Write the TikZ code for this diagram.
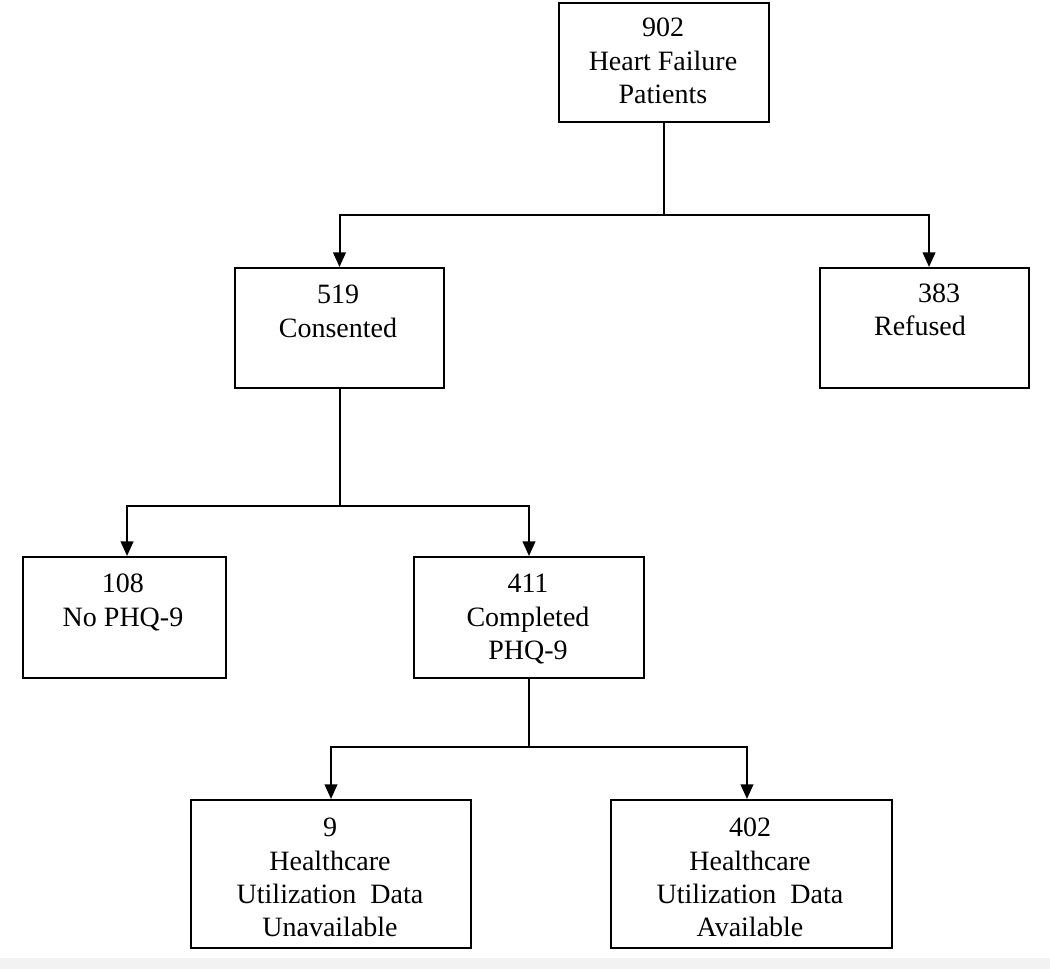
\documentclass[tikz,border=0pt]{standalone}
\usepackage{fontspec}
\setmainfont{Liberation Serif}
\usetikzlibrary{arrows.meta}
\begin{document}
\begin{tikzpicture}[x=0.75pt,y=-0.75pt,
  box/.style={draw=black, line width=1.5pt, rectangle, inner sep=0pt},
  txt/.style={align=center, anchor=north, inner sep=0pt, font=\fontsize{21pt}{25pt}\selectfont},
  txt1/.style={anchor=base, inner sep=0pt, font=\fontsize{21pt}{25pt}\selectfont},
  conn/.style={line width=1.5pt},
  arr/.style={conn, -{Triangle[width=9.5pt,length=11pt]}}]
\useasboundingbox (0,0) rectangle (1050,969);
\fill[gray!10] (0,958) rectangle (1050,969);
% boxes
\node[box, anchor=north west, minimum width=210*0.75pt, minimum height=119*0.75pt] (n902) at (558,2) {};
\node[box, anchor=north west, minimum width=209*0.75pt, minimum height=120*0.75pt] (n519) at (234,267) {};
\node[box, anchor=north west, minimum width=209*0.75pt, minimum height=120*0.75pt] (n383) at (819,267) {};
\node[box, anchor=north west, minimum width=203*0.75pt, minimum height=121*0.75pt] (n108) at (22,556) {};
\node[box, anchor=north west, minimum width=230*0.75pt, minimum height=121*0.75pt] (n411) at (413,556) {};
\node[box, anchor=north west, minimum width=280*0.75pt, minimum height=148*0.75pt] (n9) at (190,799) {};
\node[box, anchor=north west, minimum width=281*0.75pt, minimum height=148*0.75pt] (n402) at (610,799) {};
% texts
\node[txt] (t902) at (663,18) {902\\Heart Failure\\Patients};
\node[txt] (t519) at (338,285) {519\\Consented};
\node[txt1] (t383a) at (939,303) {383};
\node[txt1] (t383b) at (920,336) {Refused};
\node[txt] (t108) at (123,574) {108\\No PHQ-9};
\node[txt] (t411) at (528,574) {411\\Completed\\PHQ-9};
\node[txt] (t9) at (330,818) {9\\Healthcare\\Utilization\ \ Data\\Unavailable};
\node[txt] (t402) at (750,818) {402\\Healthcare\\Utilization\ \ Data\\Available};
% junction coordinates
\coordinate (j1) at (n902.south |- 0,215);
\coordinate (j2) at (n519.south |- 0,506);
\coordinate (j3) at (n411.south |- 0,747);
% connectors
\draw[conn] (n902.south) -- (j1);
\draw[arr] (j1) -| (n519.north);
\draw[arr] (j1) -| ([xshift=3.4pt]n383.north);
\draw[conn] (n519.south) -- (j2);
\draw[arr] (j2) -| ([xshift=1.9pt]n108.north);
\draw[arr] (j2) -| (n411.north);
\draw[conn] (n411.south) -- (j3);
\draw[arr] (j3) -| (n9.north);
\draw[arr] (j3) -| ([xshift=-3.4pt]n402.north);
\end{tikzpicture}
\end{document}
